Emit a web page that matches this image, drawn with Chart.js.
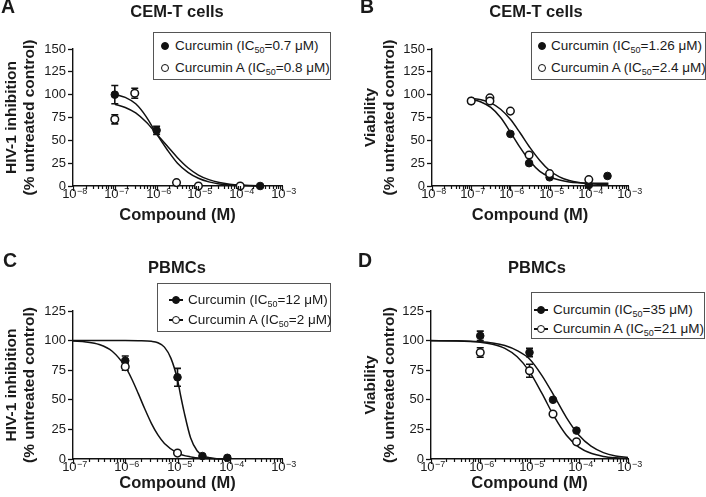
<!DOCTYPE html>
<html>
<head>
<meta charset="utf-8">
<script src="https://cdn.jsdelivr.net/npm/chart.js@4.4.1/dist/chart.umd.min.js"></script>
<style>
  html, body { margin: 0; padding: 0; background: #fff; }
  #page { position: relative; width: 706px; height: 497px; overflow: hidden;
          font-family: "Liberation Sans", Arial, sans-serif; color: #1a1a1a; }
  canvas { position: absolute; }
  .lbl { position: absolute; font-weight: bold; white-space: nowrap; }
  .legend { position: absolute; border: 1px solid #555; background: #fff; box-sizing: border-box; font-size: 13.5px; }
  .row { position: absolute; white-space: nowrap; line-height: 16px; height: 16px; }
  .dot { position: absolute; width: 8px; height: 8px; border-radius: 50%; border: 1.5px solid #111; box-sizing: border-box; }
  .ln { position: absolute; height: 1.5px; background: #111; }
  sub { font-size: 9px; vertical-align: -3px; line-height: 0; }
</style>
</head>
<body>
<div id="page"></div>
<script>
// ---- data: panel A (CEM-T, HIV-1 inhibition)
var aFillDose = [1e-7, 1e-6, 3e-4];
var aFillVal  = [100, 61, 0];
var aFillErr  = [10, 4.5, 0];
var aOpenDose = [1e-7, 3e-7, 3e-6, 1e-5, 1e-4];
var aOpenVal  = [73, 101.5, 3.7, 0, 0];
var aOpenErr  = [5, 5.5, 0, 0, 0];
var aFitLog   = [-7, -6.75, -6.5, -6.25, -6, -5.75, -5.5, -5.25, -5, -4.75, -4.5, -4.25, -4, -3.75, -3.5];
var aFitFill  = [100.5, 97, 90, 76, 57, 40, 25, 15, 8.5, 4.5, 2.2, 1, 0.5, 0.2, 0.1];
var aFitOpen  = [89.5, 86, 80, 70, 57, 44, 31, 20, 12, 7, 3.8, 2, 1, 0.5, 0.2];

// ---- panel B (CEM-T, viability)
var bFillDose = [1e-7, 1e-6, 3e-6, 1e-5, 1e-4, 3e-4];
var bFillVal  = [93, 57, 25, 9.5, 1, 11];
var bOpenDose = [1e-7, 3e-7, 3e-7, 1e-6, 3e-6, 1e-5, 1e-4];
var bOpenVal  = [93, 96.5, 93, 82, 34, 13.5, 7];
var bFitLog   = [-7, -6.75, -6.5, -6.25, -6, -5.75, -5.5, -5.25, -5, -4.75, -4.5, -4.25, -4, -3.75, -3.5];
var bFitFill  = [95, 92, 86, 75, 59, 42, 27, 16, 10, 6.5, 4.5, 3.6, 3.2, 3, 3];
var bFitOpen  = [96, 94.5, 91, 84, 73, 58, 42, 28, 17, 10, 6, 3.8, 2.5, 1.9, 1.6];

// ---- panel C (PBMCs, HIV-1 inhibition)
var cFillDose = [1e-6, 1e-5, 3e-5, 9e-5];
var cFillVal  = [83, 69, 2.5, 1];
var cFillErr  = [4, 7.5, 0, 0];
var cOpenDose = [1e-6, 1e-5];
var cOpenVal  = [78, 5];
var cOpenErr  = [3, 0];
var cFitFillLog = [-7, -6.5, -6, -5.75, -5.5, -5.375, -5.25, -5.125, -5, -4.9375, -4.875, -4.75, -4.625, -4.5, -4.375, -4.25, -4];
var cFitFill    = [100, 100, 100, 99.9, 99.4, 98.2, 94.5, 85, 67, 53, 40, 18, 7, 2.5, 1, 0.3, 0];
var cFitOpenLog = [-7, -6.75, -6.5, -6.25, -6, -5.875, -5.75, -5.625, -5.5, -5.375, -5.25, -5, -4.75, -4.5, -4.25, -4];
var cFitOpen    = [99.6, 98.8, 96.7, 91, 78, 67.6, 55.2, 42.2, 30.1, 20.3, 13.1, 5, 1.8, 0.6, 0.2, 0.1];

// ---- panel D (PBMCs, viability)
var dFillDose = [1e-6, 1e-5, 3e-5, 9e-5];
var dFillVal  = [104, 90, 50, 24];
var dFillErr  = [4, 3.5, 0, 0];
var dOpenDose = [1e-6, 1e-5, 3e-5, 9e-5];
var dOpenVal  = [90, 74.5, 38, 14.5];
var dOpenErr  = [4, 5.5, 0, 0];
var dFitLog   = [-7, -6.5, -6, -5.75, -5.5, -5.25, -5, -4.75, -4.5, -4.25, -4, -3.75, -3.5, -3.25, -3];
var dFitFill  = [100, 99.8, 99, 98, 95.8, 91.5, 84.5, 70.7, 53.3, 35, 20.3, 10.8, 5.4, 2.6, 1.3];
var dFitOpen  = [99.9, 99.7, 98.6, 96.9, 93.4, 86.3, 73.8, 55.6, 35.9, 20, 10, 4.8, 2.2, 1, 0.4];

// ---- text
var seriesNames = ['Curcumin', 'Curcumin A'];
var icA = ['0.7', '0.8'];
var icB = ['1.26', '2.4'];
var icC = ['12', '2'];
var icD = ['35', '21'];
var yTicksCEM = 150;
var yTicksPBMC = 125;

var FONT = '"Liberation Sans", Arial, sans-serif';
Chart.defaults.font.family = FONT;
Chart.defaults.color = '#1a1a1a';

function pts(doses, vals) {
    return doses.map(function(d, i) { return {x: Math.log10(d), y: vals[i]}; });
}
function fit(logs, vals) {
    return logs.map(function(x, i) { return {x: x, y: vals[i]}; });
}

// error bars under the markers
var errorBars = {
    id: 'errorBars',
    beforeDatasetsDraw: function(chart) {
        var ctx = chart.ctx, xs = chart.scales.x, ys = chart.scales.y;
        ctx.save();
        ctx.strokeStyle = '#111';
        ctx.lineWidth = 1.6;
        chart.data.datasets.forEach(function(ds) {
            if (!ds.errors) return;
            ds.data.forEach(function(p, i) {
                var e = ds.errors[i];
                if (!e) return;
                var px = xs.getPixelForValue(p.x);
                var y1 = ys.getPixelForValue(p.y + e), y2 = ys.getPixelForValue(p.y - e);
                ctx.beginPath();
                ctx.moveTo(px, y1); ctx.lineTo(px, y2);
                ctx.moveTo(px - 3.5, y1); ctx.lineTo(px + 3.5, y1);
                ctx.moveTo(px - 3.5, y2); ctx.lineTo(px + 3.5, y2);
                ctx.stroke();
            });
        });
        ctx.restore();
    }
};

// log-axis tick marks (long on decades) and 10^n labels with a raised exponent
var logTicks = {
    id: 'logTicks',
    afterDraw: function(chart) {
        var ctx = chart.ctx, xs = chart.scales.x;
        ctx.save();
        ctx.strokeStyle = '#111';
        ctx.fillStyle = '#1a1a1a';
        ctx.lineWidth = 1.2;
        xs.ticks.forEach(function(t) {
            var major = Math.abs(t.value - Math.round(t.value)) < 1e-9;
            var px = Math.round(xs.getPixelForValue(t.value)) + 0.5;
            ctx.beginPath();
            ctx.moveTo(px, xs.top);
            ctx.lineTo(px, xs.top + (major ? 5 : 3));
            ctx.stroke();
            if (!major) return;
            var base = '10', ex = '\u2212' + Math.abs(Math.round(t.value));
            ctx.font = '13px ' + FONT;
            var bw = ctx.measureText(base).width;
            ctx.font = '9px ' + FONT;
            var ew = ctx.measureText(ex).width;
            var x0 = px - (bw + ew) / 2 + 1;
            var yb = xs.top + 12;
            ctx.textBaseline = 'alphabetic';
            ctx.textAlign = 'left';
            ctx.font = '13px ' + FONT;
            ctx.fillText(base, x0, yb);
            ctx.font = '9px ' + FONT;
            ctx.fillText(ex, x0 + bw + 0.5, yb - 4.5);
        });
        ctx.restore();
    }
};

var panels = [
    {letter: 'A', title: 'CEM-T cells', left: 0, top: 0, w: 353, h: 248,
     area: {l: 73, r: 282, t: 49, b: 186}, xMin: -8, yMax: yTicksCEM,
     yTitle: ['HIV-1 inhibition', '(% untreated control)'], yPad: 2, xPad: 23,
     letterPos: [1, 7], titlePos: [177, 11],
     fill: pts(aFillDose, aFillVal), fillErr: aFillErr, open: pts(aOpenDose, aOpenVal), openErr: aOpenErr,
     fits: [fit(aFitLog, aFitFill), fit(aFitLog, aFitOpen)],
     ic: icA, lineMk: false, leg: {l: 153, t: 32, w: 178, h: 48, rows: [14, 36], mk: 11, tx: 21}},
    {letter: 'B', title: 'CEM-T cells', left: 353, top: 0, w: 353, h: 248,
     area: {l: 79, r: 275, t: 49, b: 186}, xMin: -8, yMax: yTicksCEM,
     yTitle: ['Viability', '(% untreated control)'], yPad: 8.5, xPad: 23,
     letterPos: [360, 7], titlePos: [536, 11],
     fill: pts(bFillDose, bFillVal), fillErr: null, open: pts(bOpenDose, bOpenVal), openErr: null,
     fits: [fit(bFitLog, bFitFill), fit(bFitLog, bFitOpen)],
     ic: icB, lineMk: false, leg: {l: 531, t: 32, w: 175, h: 48, rows: [14, 36], mk: 10, tx: 19}},
    {letter: 'C', title: 'PBMCs', left: 0, top: 248, w: 353, h: 249,
     area: {l: 73, r: 282, t: 63, b: 211}, xMin: -7, yMax: yTicksPBMC,
     yTitle: ['HIV-1 inhibition', '(% untreated control)'], yPad: 2, xPad: 4,
     letterPos: [3, 261], titlePos: [177, 267],
     fill: pts(cFillDose, cFillVal), fillErr: cFillErr, open: pts(cOpenDose, cOpenVal), openErr: cOpenErr,
     fits: [fit(cFitFillLog, cFitFill), fit(cFitOpenLog, cFitOpen)],
     ic: icC, lineMk: true, leg: {l: 157, t: 283, w: 174, h: 49, rows: [17, 37], mk: 18, tx: 30}},
    {letter: 'D', title: 'PBMCs', left: 353, top: 248, w: 353, h: 249,
     area: {l: 78, r: 275, t: 63, b: 211}, xMin: -7, yMax: yTicksPBMC,
     yTitle: ['Viability', '(% untreated control)'], yPad: 8.5, xPad: 4,
     letterPos: [358, 261], titlePos: [537, 267],
     fill: pts(dFillDose, dFillVal), fillErr: dFillErr, open: pts(dOpenDose, dOpenVal), openErr: dOpenErr,
     fits: [fit(dFitLog, dFitFill), fit(dFitLog, dFitOpen)],
     ic: icD, lineMk: true, leg: {l: 531, t: 292, w: 174, h: 47, rows: [18, 37], mk: 9, tx: 21}}
];

var page = document.getElementById('page');

function addText(txt, x, cy, size, center) {
    var el = document.createElement('div');
    el.className = 'lbl';
    el.textContent = txt;
    el.style.fontSize = size + 'px';
    el.style.lineHeight = size + 'px';
    el.style.top = (cy - size / 2) + 'px';
    el.style.left = x + 'px';
    if (center) el.style.transform = 'translateX(-50%)';
    page.appendChild(el);
}

function addLegend(p) {
    var box = document.createElement('div');
    box.className = 'legend';
    box.style.left = p.leg.l + 'px';
    box.style.top = p.leg.t + 'px';
    box.style.width = p.leg.w + 'px';
    box.style.height = p.leg.h + 'px';
    seriesNames.forEach(function(name, i) {
        var cy = p.leg.rows[i] - 1;
        if (p.lineMk) {
            var ln = document.createElement('div');
            ln.className = 'ln';
            ln.style.left = (p.leg.mk - 7) + 'px';
            ln.style.width = '14px';
            ln.style.top = (cy - 0.75) + 'px';
            box.appendChild(ln);
        }
        var dot = document.createElement('div');
        dot.className = 'dot';
        dot.style.left = (p.leg.mk - 4) + 'px';
        dot.style.top = (cy - 4) + 'px';
        dot.style.background = i === 0 ? '#111' : '#fff';
        box.appendChild(dot);
        var row = document.createElement('div');
        row.className = 'row';
        row.style.left = p.leg.tx + 'px';
        row.style.top = (cy - 8) + 'px';
        row.innerHTML = name + ' (IC<sub>50</sub>=' + p.ic[i] + ' \u03BCM)';
        box.appendChild(row);
    });
    page.appendChild(box);
}

panels.forEach(function(p) {
    var cv = document.createElement('canvas');
    cv.width = p.w;
    cv.height = p.h;
    cv.style.left = p.left + 'px';
    cv.style.top = p.top + 'px';
    page.appendChild(cv);

    var datasets = [
        {data: p.open, errors: p.openErr, showLine: false, pointRadius: 3.8,
         pointBackgroundColor: '#fff', pointBorderColor: '#111', pointBorderWidth: 1.5, clip: false, order: 0},
        {data: p.fill, errors: p.fillErr, showLine: false, pointRadius: 3.8,
         pointBackgroundColor: '#111', pointBorderColor: '#111', pointBorderWidth: 1, clip: false, order: 1}
    ];
    p.fits.forEach(function(f) {
        datasets.push({data: f, showLine: true, pointRadius: 0, borderColor: '#111', borderWidth: 1.5,
                       cubicInterpolationMode: 'monotone', fill: false, clip: false, order: 2});
    });

    new Chart(cv, {
        type: 'scatter',
        data: {datasets: datasets},
        options: {
            responsive: false,
            animation: false,
            layout: {padding: {left: 0, top: p.area.t, right: p.w - p.area.r, bottom: 0}},
            plugins: {legend: {display: false}, tooltip: {enabled: false}},
            scales: {
                x: {
                    type: 'linear', min: p.xMin, max: -3,
                    afterBuildTicks: function(s) {
                        var t = [];
                        for (var e = p.xMin; e <= -3; e++) {
                            t.push({value: e});
                            if (e < -3) for (var k = 2; k <= 9; k++) t.push({value: e + Math.log10(k)});
                        }
                        s.ticks = t;
                    },
                    afterFit: function(s) { s.height = p.h - p.area.b; },
                    grid: {display: false, drawTicks: false},
                    border: {display: true, color: '#111', width: 1.4},
                    ticks: {display: false},
                    title: {display: true, text: 'Compound (M)', font: {size: 16.5, weight: 'bold'},
                            padding: {top: 0, bottom: p.xPad}}
                },
                y: {
                    min: 0, max: p.yMax,
                    afterFit: function(s) { s.width = p.area.l; },
                    grid: {display: true, drawOnChartArea: false, drawTicks: true, tickLength: 5,
                           tickColor: '#111', tickWidth: 1.3},
                    border: {display: true, color: '#111', width: 1.4},
                    ticks: {stepSize: 25, padding: 2, font: {size: 13}},
                    title: {display: true, text: p.yTitle, font: {size: 15.5, weight: 'bold'},
                            padding: {top: p.yPad, bottom: 0}}
                }
            }
        },
        plugins: [errorBars, logTicks]
    });

    addText(p.letter, p.letterPos[0], p.letterPos[1], 19.5, false);
    addText(p.title, p.titlePos[0], p.titlePos[1], 16.5, true);
    addLegend(p);
});
</script>
</body>
</html>
